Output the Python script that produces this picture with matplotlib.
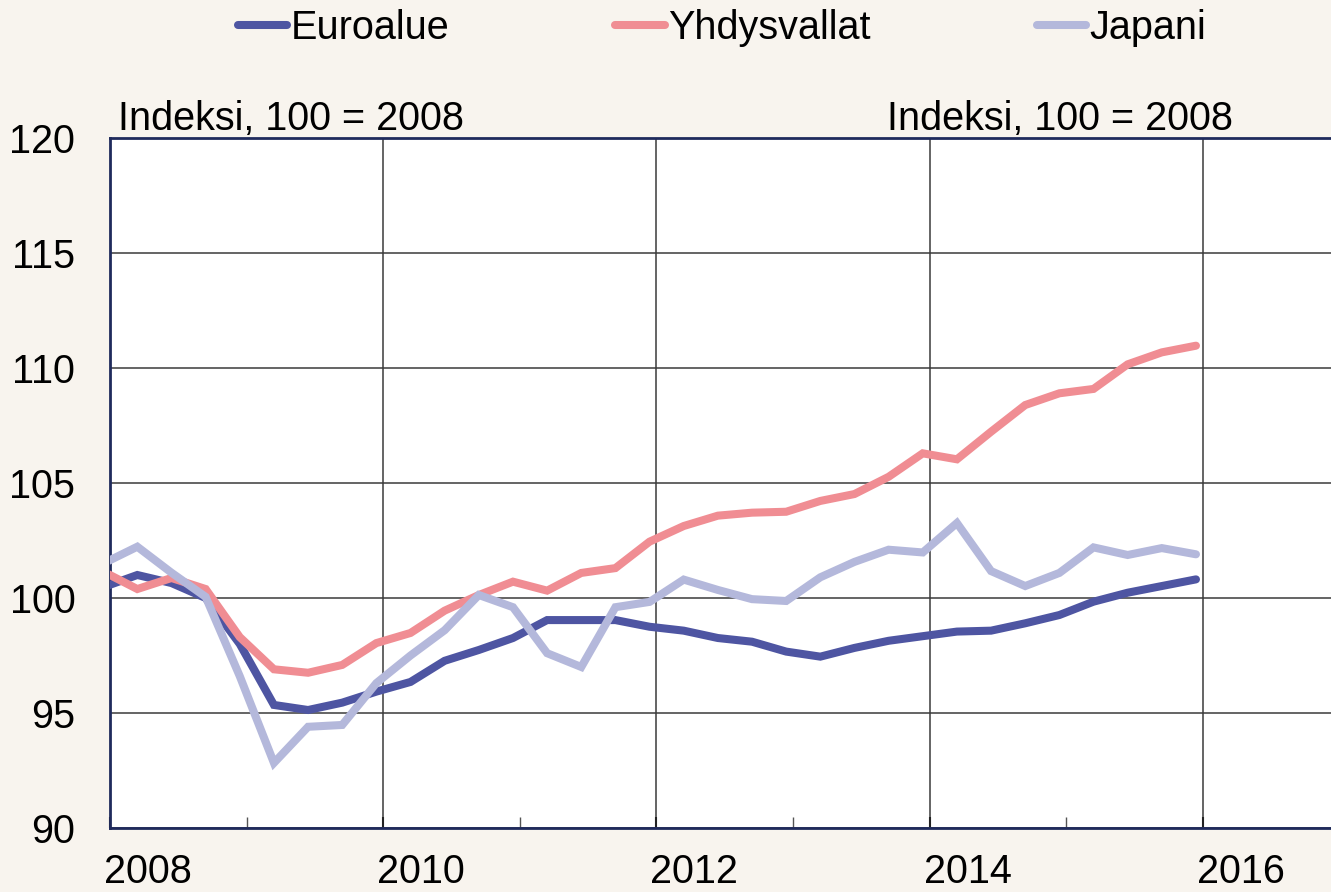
import matplotlib
matplotlib.use("Agg")
import matplotlib.pyplot as plt
import matplotlib.transforms as mtransforms
from matplotlib.ticker import FixedLocator

plt.rcParams['font.family'] = ['Liberation Sans Narrow', 'Liberation Sans', 'DejaVu Sans']

# Quarterly data, 2007Q4 .. 2015Q4 (plotted at end-of-quarter positions)
quarters_start = 2007.95
quarter_step = 0.25

euroalue = [100.47, 101.0, 100.65, 100.0, 98.0, 95.35, 95.13, 95.45, 95.93, 96.35,
            97.27, 97.74, 98.26, 99.04, 99.04, 99.04, 98.75, 98.58, 98.26, 98.1,
            97.67, 97.45, 97.83, 98.14, 98.34, 98.54, 98.58, 98.9, 99.26, 99.84,
            100.23, 100.52, 100.81]
yhdysvallat = [101.15, 100.39, 100.87, 100.39, 98.3, 96.9, 96.75, 97.09, 98.04, 98.48,
               99.45, 100.13, 100.71, 100.32, 101.09, 101.3, 102.45, 103.13, 103.58, 103.71,
               103.75, 104.22, 104.52, 105.27, 106.29, 106.03, 107.23, 108.39, 108.9, 109.09,
               110.16, 110.68, 110.97]
japani = [101.5, 102.23, 101.1, 100.05, 96.6, 92.83, 94.4, 94.48, 96.3, 97.5,
          98.6, 100.13, 99.6, 97.6, 97.0, 99.6, 99.83, 100.8, 100.35, 99.95,
          99.87, 100.9, 101.57, 102.1, 101.98, 103.26, 101.17, 100.52, 101.09, 102.2,
          101.87, 102.17, 101.9]

series_names = ['Euroalue', 'Yhdysvallat', 'Japani']
series_colors = ['#4E55A2', '#F08D93', '#B4B8DB']
x_tick_years = [2008, 2010, 2012, 2014, 2016]
y_ticks = [90, 95, 100, 105, 110, 115, 120]
unit_label = 'Indeksi, 100 = 2008'

x = [quarters_start + quarter_step * i for i in range(len(euroalue))]

W, H = 1331, 892
fig = plt.figure(figsize=(W / 100, H / 100), dpi=100)
fig.patch.set_facecolor('#F8F4EE')

ax_left, ax_top, ax_bottom = 110, 138, 828
px_per_year = 136.6
xmin, xmax = 2008, 2017
ax_right = ax_left + (xmax - xmin) * px_per_year
ax = fig.add_axes([ax_left / W, (H - ax_bottom) / H, (ax_right - ax_left) / W, (ax_bottom - ax_top) / H])
ax.set_facecolor('white')

lw = 5.8
for vals, name, col in zip([euroalue, yhdysvallat, japani], series_names, series_colors):
    ax.plot(x, vals, color=col, lw=lw, label=name, solid_capstyle='round', solid_joinstyle='miter', zorder=3)

ax.set_xlim(xmin, xmax)
ax.set_ylim(90, 120)

ax.xaxis.set_major_locator(FixedLocator(x_tick_years))
ax.xaxis.set_minor_locator(FixedLocator([y + 1 for y in x_tick_years]))
ax.yaxis.set_major_locator(FixedLocator(y_ticks))

ax.grid(True, which='major', axis='both', color='#3a3a3a', lw=1.1, zorder=1)

for s in ['left', 'bottom', 'top']:
    ax.spines[s].set_color('#1F2A5C')
    ax.spines[s].set_linewidth(2.0)
ax.spines['right'].set_visible(False)

fs = 28.5
ax.tick_params(axis='x', which='major', direction='in', length=8, width=1.5, color='#222222',
               labelsize=fs, pad=18)
ax.tick_params(axis='x', which='minor', direction='in', length=8, width=1.0, color='#555555')
ax.tick_params(axis='y', which='major', length=0, labelsize=fs, pad=25)

# x labels start at the tick (left-aligned)
offset = mtransforms.ScaledTranslation(-6 / 100, 0, fig.dpi_scale_trans)
for lbl in ax.get_xticklabels():
    lbl.set_horizontalalignment('left')
    lbl.set_transform(lbl.get_transform() + offset)

fig.text(118 / W, (H - 130) / H, unit_label, fontsize=fs, ha='left', va='baseline')
fig.text(1233 / W, (H - 130) / H, unit_label, fontsize=fs, ha='right', va='baseline')

leg = fig.legend(loc='center', bbox_to_anchor=(722 / W, 1 - 28 / H), ncol=3, frameon=False,
                 fontsize=fs, handlelength=1.25, handletextpad=0.08, columnspacing=4.2)
for h in leg.get_lines():
    h.set_linewidth(lw)
    h.set_solid_capstyle('round')

fig.savefig('out.png', dpi=100, facecolor=fig.get_facecolor())
